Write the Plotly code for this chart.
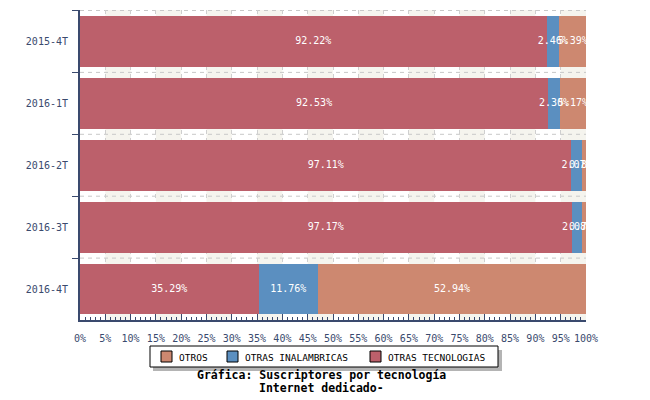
import plotly.graph_objects as go

categories = ["2015-4T", "2016-1T", "2016-2T", "2016-3T", "2016-4T"]
otras_tecnologias = [92.22, 92.53, 97.11, 97.17, 35.29]
otras_inalambricas = [2.46, 2.30, 2.07, 2.08, 11.76]
otros = [5.39, 5.17, 0.82, 0.75, 52.94]

series = [
    ("OTRAS TECNOLOGIAS", otras_tecnologias, "#bc606b"),
    ("OTRAS INALAMBRICAS", otras_inalambricas, "#5b8fc0"),
    ("OTROS", otros, "#cd8870"),
]

MONO = "DejaVu Sans Mono"
AXC = "#3a4a6e"
W, H = 650, 400
ML, MR, MT, MB = 80, 64, 10, 80
PW, PH = W - ML - MR, H - MT - MB


def px(xp):
    return (xp - ML) / PW


def py(yp):
    return (H - MB - yp) / PH


fig = go.Figure()
for name, vals, col in series:
    fig.add_trace(go.Bar(
        y=categories, x=vals, name=name, orientation="h",
        marker=dict(color=col, line=dict(width=0)),
        hoverinfo="x+name", showlegend=False,
    ))

# value labels centered in each segment (clipped to the plot area)
cum = [0.0] * len(categories)
for name, vals, col in series:
    mids = [cum[i] + v / 2 for i, v in enumerate(vals)]
    fig.add_trace(go.Scatter(
        x=mids, y=categories, mode="text",
        text=[f"{v:.2f}%" for v in vals], textposition="middle center",
        textfont=dict(family=MONO, size=10, color="white"),
        cliponaxis=True, hoverinfo="skip", showlegend=False,
    ))
    cum = [cum[i] + v for i, v in enumerate(vals)]

annotations = []
# title lines
for txt, yc in [("Gráfica: Suscriptores por tecnología", 375), ("Internet dedicado-", 388)]:
    annotations.append(dict(
        x=px(321), y=py(yc), xref="paper", yref="paper", xanchor="center", yanchor="middle",
        text=f"<b>{txt}</b>", showarrow=False,
        font=dict(family=MONO, size=11.5, color="black"),
    ))

shapes = []
# alternating background column bands
for k in range(1, 20, 2):
    shapes.append(dict(type="rect", xref="x", yref="paper", x0=k * 5, x1=(k + 1) * 5,
                       y0=0, y1=1, fillcolor="#f5f4ee", line=dict(width=0), layer="below"))
# dashed horizontal lines at category boundaries
for j in range(len(categories)):
    shapes.append(dict(type="line", xref="paper", yref="y", x0=0, x1=1,
                       y0=j - 0.5, y1=j - 0.5,
                       line=dict(color="#c8c8c8", width=1, dash="4px,4px"), layer="below"))

# custom legend: shadow, box, swatches, labels
shapes.append(dict(type="rect", xref="paper", yref="paper",
                   x0=px(153), x1=px(502), y0=py(371), y1=py(350),
                   fillcolor="#b4b4b4", line=dict(width=0)))
shapes.append(dict(type="rect", xref="paper", yref="paper",
                   x0=px(150), x1=px(498), y0=py(367), y1=py(346),
                   fillcolor="white", line=dict(color="black", width=1)))
legend_items = [series[2], series[1], series[0]]
swatch_x = [161, 227, 370]
for (name, vals, col), sx in zip(legend_items, swatch_x):
    shapes.append(dict(type="rect", xref="paper", yref="paper",
                       x0=px(sx), x1=px(sx + 11), y0=py(362), y1=py(351),
                       fillcolor=col, line=dict(color="black", width=1)))
    annotations.append(dict(
        x=px(sx + 16), y=py(357), xref="paper", yref="paper", xanchor="left", yanchor="middle",
        text=name, showarrow=False,
        font=dict(family=MONO, size=9.5, color="black"),
    ))

fig.update_layout(
    barmode="stack",
    bargap=0.18,
    width=W, height=H,
    margin=dict(l=ML, r=MR, t=MT, b=MB, autoexpand=False),
    paper_bgcolor="white",
    plot_bgcolor="white",
    showlegend=False,
    xaxis=dict(
        range=[0, 100], dtick=5, ticksuffix="%",
        showgrid=True, gridcolor="#cfcfcf", griddash="4px,4px", gridwidth=1,
        zeroline=False, automargin=False,
        showline=True, linecolor=AXC, linewidth=2,
        ticks="inside", ticklen=6, tickcolor=AXC,
        minor=dict(dtick=1, ticks="inside", ticklen=3, tickcolor=AXC, showgrid=False),
        tickfont=dict(family=MONO, size=10, color=AXC),
        ticklabelstandoff=8,
        fixedrange=True,
    ),
    yaxis=dict(
        autorange="reversed", type="category", automargin=False,
        showline=True, linecolor=AXC, linewidth=2,
        ticks="outside", ticklen=6, tickcolor=AXC, tickson="boundaries",
        showgrid=False,
        tickfont=dict(family=MONO, size=10, color=AXC),
        ticklabelstandoff=8,
        fixedrange=True,
    ),
    annotations=annotations,
    shapes=shapes,
)

fig.write_html("out.html", config={"displayModeBar": False},
               post_script="document.body.style.margin='0px';")
